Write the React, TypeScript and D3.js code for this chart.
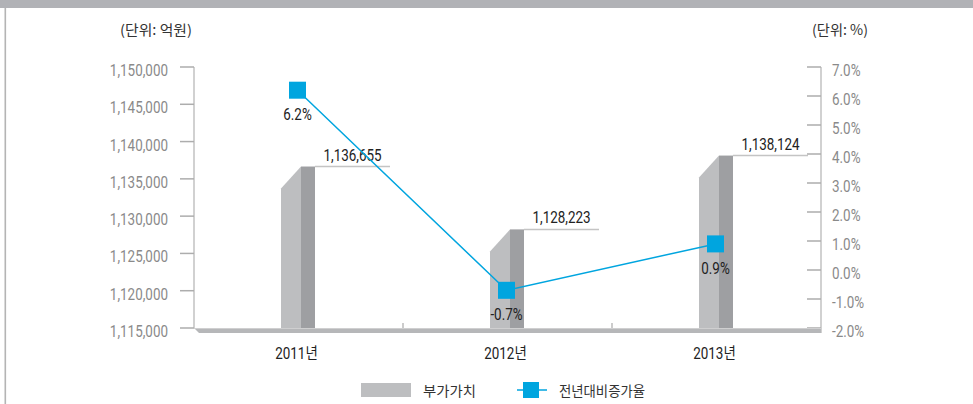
import React, { useEffect, useRef } from "react";
import * as d3 from "d3";

const years = ["2011년", "2012년", "2013년"];
const valueAdded = [1136655, 1128223, 1138124];
const growthRate = [6.2, -0.7, 0.9];
const leftTicks = [1115000, 1120000, 1125000, 1130000, 1135000, 1140000, 1145000, 1150000];
const rightTicks = [-2, -1, 0, 1, 2, 3, 4, 5, 6, 7];

const FONT = "Roboto, 'Noto Sans CJK KR', sans-serif";
const KFONT = "'Noto Sans CJK KR', sans-serif";
const BLUE = "#00a5df";
const SX = 0.84; // narrow the numbers, reference uses a condensed face

export default function App() {
  const ref = useRef<SVGSVGElement>(null);

  useEffect(() => {
    const width = 973;
    const height = 404;
    const left = 194;
    const right = 821;
    const top = 67;
    const bottom = 328;

    const svg = d3.select(ref.current);
    svg.selectAll("*").remove();

    // frame
    svg.append("rect").attr("x", 0).attr("y", 0).attr("width", width).attr("height", height).attr("fill", "#fff");
    svg.append("rect").attr("x", 0).attr("y", 0).attr("width", width).attr("height", 8).attr("fill", "#b1b2b6");
    svg.append("rect").attr("x", 4.5).attr("y", 8).attr("width", 1.6).attr("height", height - 8).attr("fill", "#b4b4b4");

    // scales
    const x = d3.scaleBand().domain(years).range([left, right]).padding(0);
    const yL = d3.scaleLinear().domain([1115000, 1150000]).range([bottom, top]);
    const yR = d3.scaleLinear().domain([-2, 7]).range([bottom, top]);
    const cx = (d: string) => (x(d) as number) + x.bandwidth() / 2;
    const at = (px: number, py: number) => `translate(${px},${py}) scale(${SX},1)`;

    // unit labels
    svg.append("text").attr("x", 156).attr("y", 35).attr("text-anchor", "middle")
      .attr("font-family", KFONT).attr("font-size", 14).attr("fill", "#333")
      .attr("textLength", 72).attr("lengthAdjust", "spacingAndGlyphs").text("(단위: 억원)");
    svg.append("text").attr("x", 840).attr("y", 35).attr("text-anchor", "middle")
      .attr("font-family", KFONT).attr("font-size", 14).attr("fill", "#333")
      .attr("textLength", 56).attr("lengthAdjust", "spacingAndGlyphs").text("(단위: %)");

    // left axis
    svg.append("line").attr("x1", left).attr("x2", left).attr("y1", top).attr("y2", bottom)
      .attr("stroke", "#c2c2c2").attr("stroke-width", 1.5);
    const lt = svg.append("g").selectAll("g").data(leftTicks).join("g")
      .attr("transform", (d) => `translate(0,${yL(d)})`);
    lt.append("line").attr("x1", left - 14).attr("x2", left).attr("stroke", "#adadad").attr("stroke-width", 1.5);
    lt.append("text").attr("transform", at(168, 9)).attr("text-anchor", "end")
      .attr("font-family", FONT).attr("font-size", 16).attr("fill", "#8a8a8a")
      .text((d) => d3.format(",")(d));

    // right axis
    svg.append("line").attr("x1", right).attr("x2", right).attr("y1", top).attr("y2", bottom + 5)
      .attr("stroke", "#c2c2c2").attr("stroke-width", 1.5);
    const rt = svg.append("g").selectAll("g").data(rightTicks).join("g")
      .attr("transform", (d) => `translate(0,${yR(d)})`);
    rt.append("line").attr("x1", right - 14).attr("x2", right).attr("stroke", "#adadad").attr("stroke-width", 1.5);
    rt.append("text").attr("transform", at(832, 9))
      .attr("font-family", FONT).attr("font-size", 16).attr("fill", "#8a8a8a")
      .text((d) => d.toFixed(1) + "%");

    // category separators
    svg.append("g").selectAll("line").data(years.slice(1)).join("line")
      .attr("x1", (d) => x(d) as number).attr("x2", (d) => x(d) as number)
      .attr("y1", bottom - 5).attr("y2", bottom).attr("stroke", "#999").attr("stroke-width", 1);

    // bars
    const bars = svg.append("g").selectAll("g").data(years).join("g");
    bars.append("polygon")
      .attr("points", (d, i) => {
        const c = cx(d);
        const yt = yL(valueAdded[i]);
        return `${c - 17.5},${yt + 22} ${c + 2.5},${yt} ${c + 2.5},${bottom} ${c - 17.5},${bottom}`;
      })
      .attr("fill", "#bdbec0");
    bars.append("rect")
      .attr("x", (d) => cx(d) + 2.5).attr("width", 14)
      .attr("y", (d, i) => yL(valueAdded[i]))
      .attr("height", (d, i) => bottom - yL(valueAdded[i]))
      .attr("fill", "#9e9fa2");
    bars.append("line")
      .attr("x1", (d) => cx(d) + 16.5).attr("x2", (d) => cx(d) + 91.5)
      .attr("y1", (d, i) => yL(valueAdded[i])).attr("y2", (d, i) => yL(valueAdded[i]))
      .attr("stroke", "#c4c4c4").attr("stroke-width", 1.5);
    bars.append("text")
      .attr("transform", (d, i) => at(cx(d) + 54, yL(valueAdded[i]) - 6))
      .attr("text-anchor", "middle").attr("font-family", FONT).attr("font-size", 16).attr("fill", "#222")
      .text((d, i) => d3.format(",")(valueAdded[i]));

    // floor
    svg.append("polygon")
      .attr("points", `${left},${bottom} ${right},${bottom} ${right},${bottom + 5} ${left + 5},${bottom + 5}`)
      .attr("fill", "#b6b7b9");
    svg.append("line").attr("x1", left).attr("x2", right).attr("y1", bottom + 0.5).attr("y2", bottom + 0.5)
      .attr("stroke", "#cfcfd0").attr("stroke-width", 1);

    // category labels
    svg.append("g").selectAll("text").data(years).join("text")
      .attr("transform", (d) => at(cx(d) - 2, 359)).attr("text-anchor", "middle")
      .attr("font-family", FONT).attr("font-size", 16).attr("fill", "#222")
      .text((d) => d);

    // growth line
    const line = d3.line<number>()
      .x((d, i) => cx(years[i]) - 1)
      .y((d) => yR(d));
    svg.append("path").datum(growthRate).attr("d", line)
      .attr("fill", "none").attr("stroke", BLUE).attr("stroke-width", 1.5);
    svg.append("g").selectAll("rect").data(growthRate).join("rect")
      .attr("x", (d, i) => cx(years[i]) - 9.5).attr("y", (d) => yR(d) - 8.5)
      .attr("width", 17).attr("height", 17).attr("fill", BLUE);
    svg.append("g").selectAll("text").data(growthRate).join("text")
      .attr("transform", (d, i) => at(cx(years[i]) - 1, yR(d) + 30))
      .attr("text-anchor", "middle").attr("font-family", FONT).attr("font-size", 16).attr("fill", "#222")
      .text((d) => d.toFixed(1) + "%");

    // legend
    const lg = svg.append("g");
    lg.append("rect").attr("x", 361).attr("y", 383).attr("width", 50).attr("height", 14).attr("fill", "#bdbec0");
    lg.append("text").attr("x", 423).attr("y", 396).attr("font-family", KFONT).attr("font-size", 14).attr("fill", "#333")
      .attr("textLength", 53).attr("lengthAdjust", "spacingAndGlyphs").text("부가가치");
    lg.append("line").attr("x1", 517).attr("x2", 547).attr("y1", 390).attr("y2", 390)
      .attr("stroke", BLUE).attr("stroke-width", 1.5);
    lg.append("rect").attr("x", 523).attr("y", 382).attr("width", 16).attr("height", 16).attr("fill", BLUE);
    lg.append("text").attr("x", 559).attr("y", 396).attr("font-family", KFONT).attr("font-size", 14).attr("fill", "#333")
      .attr("textLength", 86).attr("lengthAdjust", "spacingAndGlyphs").text("전년대비증가율");
  }, []);

  return (
    <svg
      ref={ref}
      width={973}
      height={404}
      style={{ position: "absolute", left: 0, top: 0, display: "block" }}
    />
  );
}
